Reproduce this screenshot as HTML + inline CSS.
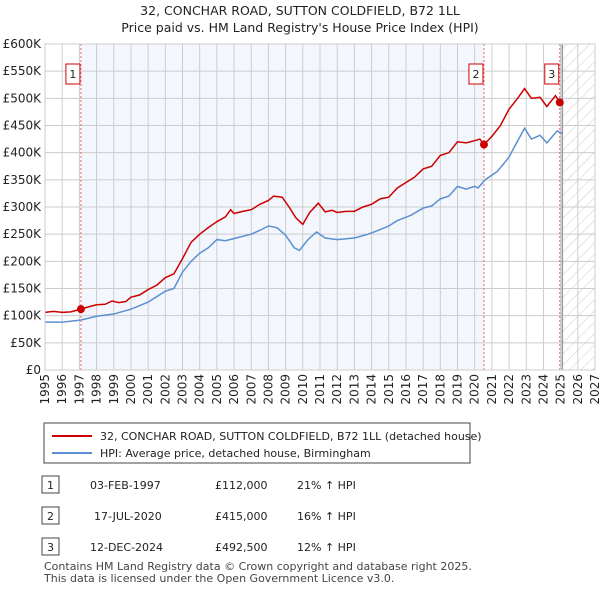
<!DOCTYPE html>
<html><head><meta charset="utf-8"><style>
body{margin:0;background:#fff;font-family:"Liberation Sans","DejaVu Sans",sans-serif;}
svg text{font-family:"DejaVu Sans","Liberation Sans",sans-serif;}
</style></head><body>
<svg id="chart" width="600" height="590" xmlns="http://www.w3.org/2000/svg">
<defs><pattern id="hatch" width="8" height="8" patternUnits="userSpaceOnUse" patternTransform="rotate(45)"><line x1="0" y1="0" x2="0" y2="8" stroke="#ccc" stroke-width="1"/></pattern></defs>
<text x="300" y="15" text-anchor="middle" font-size="12.5" fill="#222">32, CONCHAR ROAD, SUTTON COLDFIELD, B72 1LL</text>
<text x="300" y="32" text-anchor="middle" font-size="12.5" fill="#222">Price paid vs. HM Land Registry's House Price Index (HPI)</text>
<g id="plot"></g>
<g>
<rect x="44" y="423" width="426" height="40" fill="#fff" stroke="#444"/>
<line x1="52" y1="436" x2="92" y2="436" stroke="#cc0000" stroke-width="2"/>
<text x="100" y="440" font-size="11" fill="#222">32, CONCHAR ROAD, SUTTON COLDFIELD, B72 1LL (detached house)</text>
<line x1="52" y1="453" x2="92" y2="453" stroke="#5b8fd0" stroke-width="2"/>
<text x="100" y="457" font-size="11" fill="#222">HPI: Average price, detached house, Birmingham</text>
</g>
<g font-size="11" fill="#222">
<rect x="42" y="476" width="17" height="17" fill="#fff" stroke="#444"/><text x="50.5" y="489" text-anchor="middle">1</text>
<text x="90" y="489">03-FEB-1997</text><text x="215" y="489">£112,000</text><text x="297" y="489">21% ↑ HPI</text>
<rect x="42" y="507" width="17" height="17" fill="#fff" stroke="#444"/><text x="50.5" y="520" text-anchor="middle">2</text>
<text x="94" y="520">17-JUL-2020</text><text x="215" y="520">£415,000</text><text x="297" y="520">16% ↑ HPI</text>
<rect x="42" y="538" width="17" height="17" fill="#fff" stroke="#444"/><text x="50.5" y="551" text-anchor="middle">3</text>
<text x="90" y="551">12-DEC-2024</text><text x="215" y="551">£492,500</text><text x="297" y="551">12% ↑ HPI</text>
</g>
<text x="44" y="570" font-size="11" fill="#444">Contains HM Land Registry data © Crown copyright and database right 2025.</text>
<text x="44" y="582" font-size="11" fill="#444">This data is licensed under the Open Government Licence v3.0.</text>
</svg>
<script>
const yTicks=[0,50,100,150,200,250,300,350,400,450,500,550,600];
const yTickLabels=["£0","£50K","£100K","£150K","£200K","£250K","£300K","£350K","£400K","£450K","£500K","£550K","£600K"];
const xYears=[1995,1996,1997,1998,1999,2000,2001,2002,2003,2004,2005,2006,2007,2008,2009,2010,2011,2012,2013,2014,2015,2016,2017,2018,2019,2020,2021,2022,2023,2024,2025,2026,2027];
const redT=[1995,1995.5,1996,1996.5,1997.1,1997.5,1998,1998.5,1998.9,1999.3,1999.7,2000,2000.5,2001,2001.5,2002,2002.5,2003,2003.5,2004,2004.5,2005,2005.5,2005.8,2006,2006.5,2007,2007.5,2008,2008.3,2008.8,2009.2,2009.6,2010,2010.4,2010.9,2011.3,2011.7,2012,2012.5,2013,2013.5,2014,2014.5,2015,2015.5,2016,2016.5,2017,2017.5,2018,2018.5,2019,2019.5,2020,2020.3,2020.54,2021,2021.5,2022,2022.5,2022.9,2023.3,2023.8,2024.2,2024.7,2024.95];
const redV=[106,108,106,107,112,116,120,121,127,124,126,134,138,148,156,170,177,205,235,250,262,273,282,295,288,292,295,305,312,320,318,300,280,268,290,307,291,294,290,292,292,300,305,315,318,335,345,355,370,375,395,400,420,418,422,425,415,430,450,480,500,518,500,502,485,505,492.5];
const blueT=[1995,1996,1997.1,1998,1999,2000,2001,2002,2002.5,2003,2003.5,2004,2004.5,2005,2005.5,2006,2007,2007.5,2008,2008.5,2009,2009.5,2009.8,2010.3,2010.8,2011.3,2012,2013,2013.8,2014.3,2015,2015.5,2016.3,2017,2017.5,2018,2018.5,2019,2019.5,2020,2020.2,2020.6,2021.3,2021.7,2022,2022.3,2022.9,2023.3,2023.8,2024.2,2024.8,2025.1];
const blueV=[88,88,92,99,103,112,125,145,150,180,200,215,225,240,238,242,250,257,265,262,248,225,220,240,254,243,240,243,250,256,265,275,285,298,302,315,320,338,333,338,335,350,365,380,392,410,445,425,432,418,440,435];
const saleT=[1997.09,2020.54,2024.95];
const saleV=[112,415,492.5];
const saleLabels=["1","2","3"];
const X0=45,X1=595,Y0=370,Y1=44;
const xs=t=>X0+(t-1995)/(2027-1995)*(X1-X0);
const ys=v=>Y0-v/600*(Y0-Y1);
const NS="http://www.w3.org/2000/svg";
const g=document.getElementById('plot');
function mk(tag,attrs,parent){const e=document.createElementNS(NS,tag);for(const k in attrs)e.setAttribute(k,attrs[k]);(parent||g).appendChild(e);return e;}
let e;
e=mk('rect',{x:xs(saleT[0]),y:Y1,width:xs(saleT[1])-xs(saleT[0]),height:Y0-Y1,fill:'#eef3fc',opacity:0.7});


e=mk('rect',{x:xs(2025.1),y:Y1,width:X1-xs(2025.1),height:Y0-Y1,fill:'url(#hatch)'});


yTicks.forEach((v,i)=>{
 e=mk('line',{x1:X0,x2:X1,y1:ys(v),y2:ys(v),stroke:'#ccc','stroke-width':1});
 
 
 e=mk('text',{x:X0-4,y:ys(v)+4,'text-anchor':'end','font-size':12,fill:'#222'});e.textContent=yTickLabels[i];
 
 
});
xYears.forEach(yr=>{
 e=mk('line',{x1:xs(yr),x2:xs(yr),y1:Y1,y2:Y0,stroke:'#ccc','stroke-width':1});
 
 
 e=mk('text',{x:0,y:0,'text-anchor':'end','font-size':12,fill:'#222',transform:`translate(${xs(yr)+4},${Y0+4}) rotate(-90)`});e.textContent=yr;
 
 
});
e=mk('line',{x1:xs(2025.1),x2:xs(2025.1),y1:Y1,y2:Y0,stroke:'#999','stroke-width':1.5});


saleT.forEach((t,i)=>{
 e=mk('line',{x1:xs(t),x2:xs(t),y1:Y1,y2:Y0,stroke:'#ee6666','stroke-width':1,'stroke-dasharray':'2,2'});
 
 
 e=mk('rect',{x:xs(t)-15,y:64,width:14,height:20,fill:'#fff',stroke:'#cc0000'});
 
 
 e=mk('text',{x:xs(t)-8,y:78,'text-anchor':'middle','font-size':11,fill:'#222'});e.textContent=saleLabels[i];
 
 
});
e=mk('polyline',{points:blueT.map((t,i)=>xs(t)+','+ys(blueV[i])).join(' '),fill:'none',stroke:'#5b8fd0','stroke-width':1.5});


e=mk('polyline',{points:redT.map((t,i)=>xs(t)+','+ys(redV[i])).join(' '),fill:'none',stroke:'#cc0000','stroke-width':1.5});


saleT.forEach((t,i)=>{
 e=mk('circle',{cx:xs(t),cy:ys(saleV[i]),r:4,fill:'#cc0000'});
 
 
});
e=mk('rect',{x:X0,y:Y1,width:X1-X0,height:Y0-Y1,fill:'none',stroke:'#ccc'});


</script>
</body></html>
